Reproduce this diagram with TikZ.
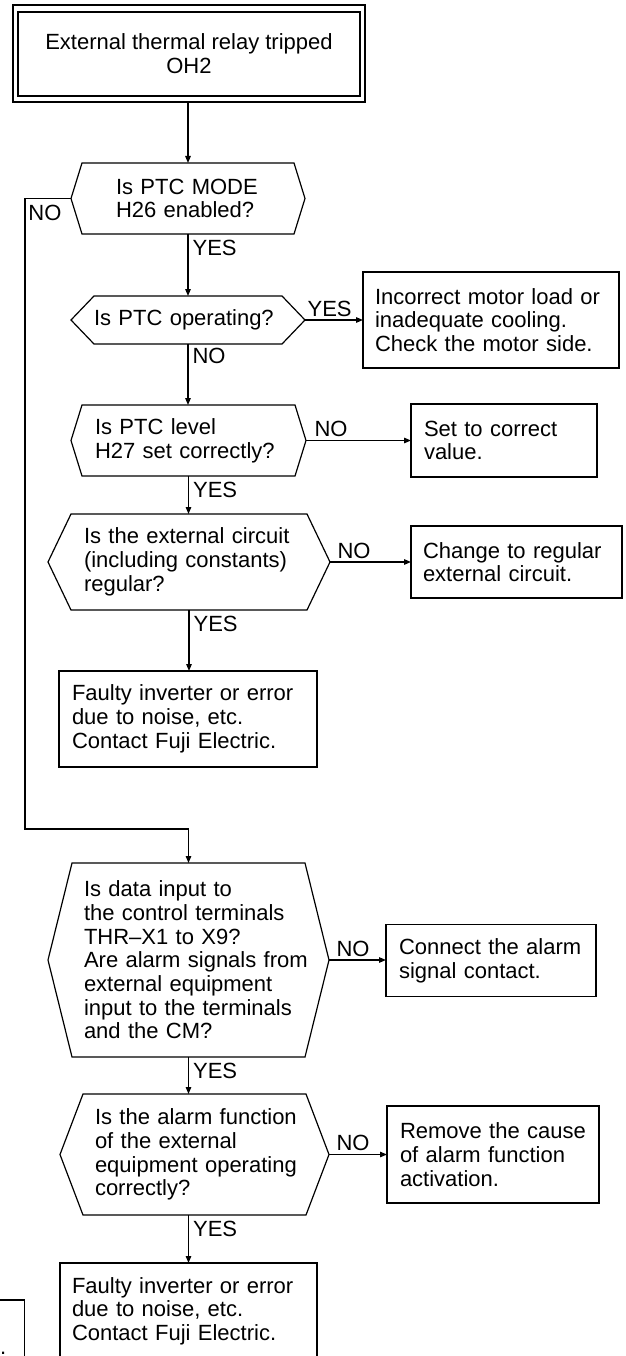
\documentclass[tikz,border=0pt]{standalone}
\usepackage{fontspec}
\setmainfont{Liberation Sans}
\usetikzlibrary{arrows.meta}
\begin{document}
\begin{tikzpicture}[x=1pt,y=-1pt,
  every node/.style={font=\fontsize{22}{23.7}\selectfont},
  lw/.style={line width=1.2pt},
  arr/.style={lw,-{Triangle[length=7pt,width=5.5pt]}},
  hexa/.style={inner sep=0pt, outer sep=0pt, align=left,
    append after command={\pgfextra{\draw[lw,line join=miter]
      ([xshift=#1]\tikzlastnode.north west) -- ([xshift=-#1]\tikzlastnode.north east)
      -- (\tikzlastnode.east) -- ([xshift=-#1]\tikzlastnode.south east)
      -- ([xshift=#1]\tikzlastnode.south west) -- (\tikzlastnode.west) -- cycle;}}},
  rbox/.style={draw, lw, inner sep=0pt, outer sep=0pt, align=left},
  startbox/.style={draw, lw, inner sep=0pt, outer sep=0pt, align=center,
    append after command={\pgfextra{\draw[lw]
      ([xshift=5pt,yshift=-7pt]\tikzlastnode.north west) rectangle
      ([xshift=-5pt,yshift=6pt]\tikzlastnode.south east);}}},
  yeslbl/.style={anchor=north west, inner sep=0pt, xshift=4pt, yshift=-6pt},
  nolbl/.style={anchor=south west, inner sep=0pt, xshift=7pt, yshift=3pt}
]
\useasboundingbox (0,0) rectangle (625,1356);
\fill[white] (0,0) rectangle (625,1356);
\clip (0,0) rectangle (625,1356);

% nodes
\node[startbox, minimum width=352pt, minimum height=97pt] (start) at (189,53.5)
  {External thermal relay tripped\\OH2};

\node[hexa=11pt, minimum width=234pt, minimum height=71pt, text width=144pt] (q1) at (188,198.5)
  {\mbox{Is PTC MODE}\\\mbox{H26 enabled?}};

\node[hexa=23pt, minimum width=234pt, minimum height=48pt, text width=188pt] (q2) at (188,320)
  {\mbox{Is PTC operating?}};

\node[rbox, minimum width=256pt, minimum height=96pt, text width=232pt] (r1) at (491,320)
  {\mbox{Incorrect motor load or}\\\mbox{inadequate cooling.}\\\mbox{Check the motor side.}};

\node[hexa=11pt, minimum width=235pt, minimum height=71pt, text width=187pt] (q3) at (188.5,440.5)
  {\mbox{Is PTC level}\\\mbox{H27 set correctly?}};

\node[rbox, minimum width=186pt, minimum height=73pt, text width=160pt] (r2) at (504,440.5)
  {\mbox{Set to correct}\\\mbox{value.}};

\node[hexa=23pt, minimum width=282pt, minimum height=96pt, text width=210pt] (q4) at (189,562)
  {\mbox{Is the external circuit}\\\mbox{(including constants)}\\\mbox{regular?}};

\node[rbox, minimum width=211pt, minimum height=72pt, text width=187pt] (r3) at (516.5,562)
  {\mbox{Change to regular}\\\mbox{external circuit.}};

\node[rbox, minimum width=258pt, minimum height=96pt, text width=232pt] (f1) at (188,719)
  {\mbox{Faulty inverter or error}\\\mbox{due to noise, etc.}\\\mbox{Contact Fuji Electric.}};

\coordinate (nobend) at (25,829);

\node[hexa=24pt, minimum width=281pt, minimum height=194pt, text width=209pt] (q5) at (188.5,960)
  {\mbox{Is data input to}\\\mbox{the control terminals}\\\mbox{THR–X1 to X9?}\\\mbox{Are alarm signals from}\\\mbox{external equipment}\\\mbox{input to the terminals}\\\mbox{and the CM?}};

\node[rbox, minimum width=210pt, minimum height=72pt, text width=184pt] (r4) at (491,960.5)
  {\mbox{Connect the alarm}\\\mbox{signal contact.}};

\node[hexa=23pt, minimum width=269pt, minimum height=121pt, text width=199pt] (q6) at (194.5,1154.5)
  {\mbox{Is the alarm function}\\\mbox{of the external}\\\mbox{equipment operating}\\\mbox{correctly?}};

\node[rbox, minimum width=212pt, minimum height=97pt, text width=186pt] (r5) at (493,1154.5)
  {\mbox{Remove the cause}\\\mbox{of alarm function}\\\mbox{activation.}};

\node[rbox, minimum width=257pt, minimum height=96pt, text width=233pt] (f2) at (188.5,1311)
  {\mbox{Faulty inverter or error}\\\mbox{due to noise, etc.}\\\mbox{Contact Fuji Electric.}};

\node[rbox, minimum width=124.5pt, minimum height=120pt] (prevbox) at (-37.75,1360) {};
\node[anchor=base west, inner sep=0pt] (prevdot) at (0,1354) {.};

% connectors
\draw[arr] (start.south -| q1.north) -- (q1.north);
\draw[arr] (q1.south) node[yeslbl]{YES} -- (q2.north);
\draw[arr] (q1.west) node[anchor=north east, inner sep=0pt, xshift=-9pt, yshift=-6pt]{NO}
  -| (nobend) -| (q5.north);
\draw[arr] (q2.east) node[nolbl, xshift=-5pt]{YES} -- (q2.east -| r1.west);
\draw[arr] (q2.south) node[yeslbl, yshift=2pt]{NO} -- (q2.south |- q3.north);
\draw[arr] (q3.east) node[nolbl, xshift=1pt]{NO} -- (q3.east -| r2.west);
\draw[arr] (q3.south) node[yeslbl]{YES} -- (q3.south |- q4.north);
\draw[arr] (q4.east) node[nolbl]{NO} -- (q4.east -| r3.west);
\draw[arr] (q4.south) node[yeslbl]{YES} -- (q4.south |- f1.north);
\draw[arr] (q5.east) node[nolbl]{NO} -- (q5.east -| r4.west);
\draw[arr] (q5.south) node[yeslbl]{YES} -- (q5.south |- q6.north);
\draw[arr] (q6.east) node[nolbl]{NO} -- (q6.east -| r5.west);
\draw[arr] (q6.south -| f2.north) node[yeslbl]{YES} -- (f2.north);
\end{tikzpicture}
\end{document}
